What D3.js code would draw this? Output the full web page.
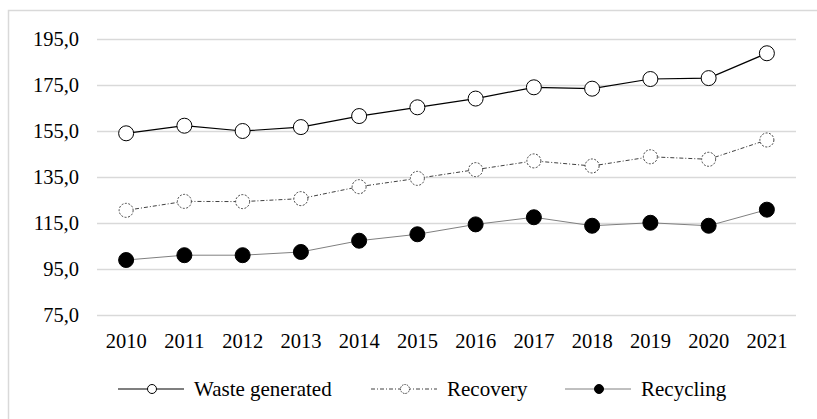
<!DOCTYPE html>
<html><head><meta charset="utf-8">
<script src="https://cdn.jsdelivr.net/npm/d3@7"></script>
<style>
body{margin:0;background:#fff}
svg{display:block}
</style>
</head><body><svg id="c" width="817" height="419" font-family="Liberation Serif"></svg>
<script>
const years = ["2010","2011","2012","2013","2014","2015","2016","2017","2018","2019","2020","2021"];
const wasteGenerated = [154.0,157.3,155.0,156.7,161.5,165.3,169.1,174.0,173.4,177.6,178.0,188.8];
const recovery = [120.5,124.4,124.3,125.6,130.8,134.4,138.2,142.0,139.8,143.8,142.7,151.1];
const recycling = [98.9,101.0,101.0,102.4,107.3,110.1,114.4,117.5,113.8,115.1,113.8,120.8];
const yTicks = [75,95,115,135,155,175,195];
const seriesNames = ["Waste generated","Recovery","Recycling"];

const FONT = "Liberation Serif";
const svg = d3.select("#c");
svg.append("rect").attr("x",8.5).attr("y",10.5).attr("width",830).attr("height",430)
  .attr("fill","#fff").attr("stroke","#d9d9d9").attr("stroke-width",1.5);

const x = d3.scaleBand().domain(years).range([97,796]);
const y = d3.scaleLinear().domain([75,195]).range([315,39]);
const fmt = v => d3.format(".1f")(v).replace(".",",");

const yAxis = d3.axisLeft(y).tickValues(yTicks).tickFormat(fmt).tickSize(-(796-97)).tickPadding(18);
const gy = svg.append("g").attr("transform","translate(97,0)").call(yAxis)
  .attr("font-family",FONT).attr("font-size",20.5);
gy.select(".domain").remove();
gy.selectAll(".tick line").attr("stroke","#d9d9d9").attr("stroke-width",1.5);
gy.selectAll(".tick text").attr("fill","#000");

const xAxis = d3.axisBottom(x).tickSize(0).tickPadding(0);
const gx = svg.append("g").attr("transform","translate(0,341)").call(xAxis)
  .attr("font-family",FONT).attr("font-size",20.5);
gx.select(".domain").remove();
gx.selectAll(".tick text").attr("fill","#000").attr("dy","0.35em");

const styles = [
  {data: wasteGenerated, line:"#000", dash:null, lw:1.2, fill:"#fff", mstroke:"#000", mdash:null, r:7.5},
  {data: recovery, line:"#404040", dash:"4,2,1,2", lw:1, fill:"#fff", mstroke:"#404040", mdash:"2,1.5", r:7},
  {data: recycling, line:"#808080", dash:null, lw:1, fill:"#000", mstroke:"#000", mdash:null, r:7.5}
];
const cx = d => x(d) + x.bandwidth()/2;
const lineGen = d3.line().x((d,i)=>cx(years[i])).y(d=>y(d));
styles.forEach(s=>{
  svg.append("path").datum(s.data).attr("d",lineGen).attr("fill","none")
    .attr("stroke",s.line).attr("stroke-width",s.lw).attr("stroke-dasharray",s.dash);
  svg.append("g").selectAll("circle").data(s.data).join("circle")
    .attr("cx",(d,i)=>cx(years[i])).attr("cy",d=>y(d)).attr("r",s.r)
    .attr("fill",s.fill).attr("stroke",s.mstroke).attr("stroke-width",1).attr("stroke-dasharray",s.mdash);
});

const legX = [118,371,565];
const ly = 389;
styles.forEach((s,i)=>{
  const g = svg.append("g").attr("transform",`translate(${legX[i]},${ly})`);
  g.append("line").attr("x1",0).attr("x2",66).attr("stroke",s.line).attr("stroke-width",s.lw).attr("stroke-dasharray",s.dash);
  g.append("circle").attr("cx",34).attr("r",4.5).attr("fill",s.fill).attr("stroke",s.mstroke).attr("stroke-width",1).attr("stroke-dasharray",s.mdash?"1.5,1":null);
  g.append("text").attr("x",76).attr("dy","0.35em").attr("font-family",FONT).attr("font-size",21).attr("fill","#000").text(seriesNames[i]);
});
</script></body></html>
